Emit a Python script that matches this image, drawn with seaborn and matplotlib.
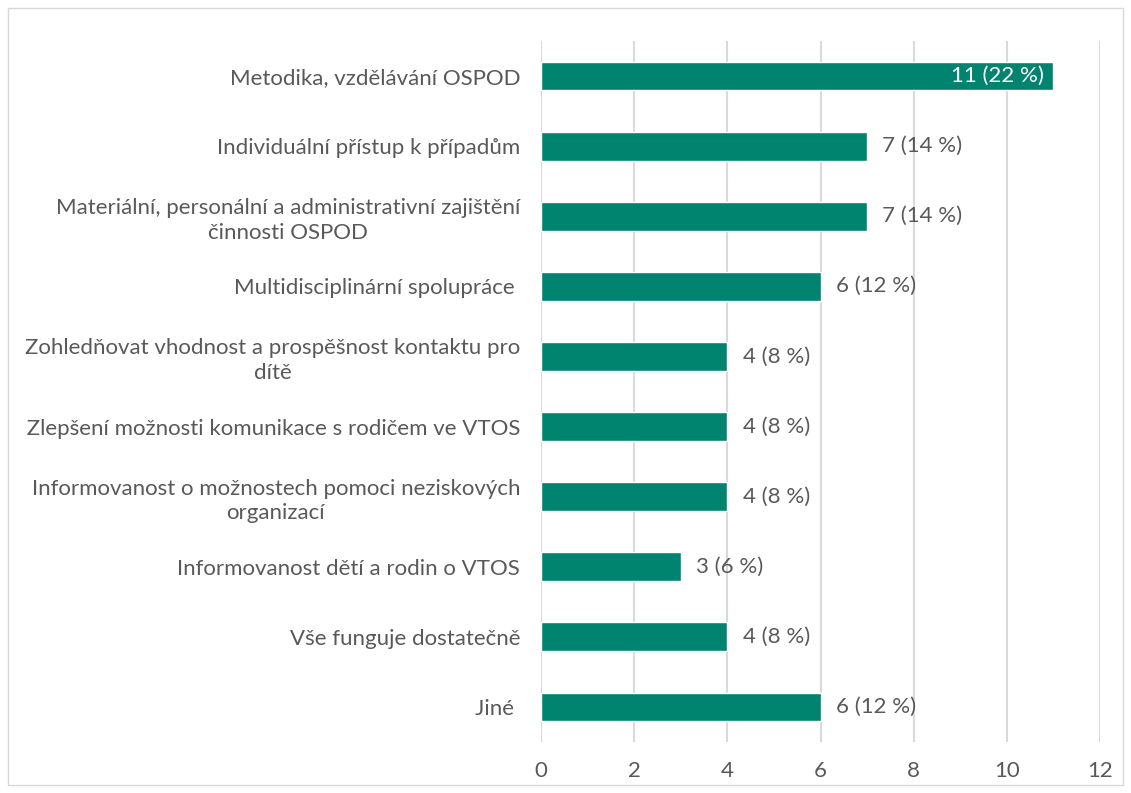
import matplotlib
matplotlib.use("Agg")
import matplotlib.pyplot as plt
import seaborn as sns
import pandas as pd
from matplotlib.patches import Rectangle

categories = [
    "Metodika, vzdělávání OSPOD",
    "Individuální přístup k případům",
    "Materiální, personální a administrativní zajištění\nčinnosti OSPOD",
    "Multidisciplinární spolupráce ",
    "Zohledňovat vhodnost a prospěšnost kontaktu pro\ndítě",
    " Zlepšení možnosti komunikace s rodičem ve VTOS",
    "Informovanost o možnostech pomoci neziskových\norganizací",
    "Informovanost dětí a rodin o VTOS",
    "Vše funguje dostatečně",
    "Jiné ",
]
counts = [11, 7, 7, 6, 4, 4, 4, 3, 4, 6]
percents = [22, 14, 14, 12, 8, 8, 8, 6, 8, 12]
x_ticks = [0, 2, 4, 6, 8, 10, 12]

BAR = "#00846F"
TEXT = "#595959"
GRID = "#D9D9D9"
FS = 16

df = pd.DataFrame({"kategorie": categories, "pocet": counts, "procenta": percents})

sns.set_theme(style="whitegrid")
plt.rcParams["font.family"] = ["Lato", "DejaVu Sans"]

fig = plt.figure(figsize=(11.31, 7.93), dpi=100)
ax = fig.add_axes([541 / 1131, 1 - 742 / 793, (1100 - 541) / 1131, (742 - 41) / 793])

sns.barplot(data=df, x="pocet", y="kategorie", orient="h", color=BAR,
            saturation=1, width=0.41, ax=ax)

ax.set_xlim(0, 12)
ax.set_ylim(len(categories) - 0.5, -0.5)
ax.set_xticks(x_ticks)
ax.set_xticklabels([str(t) for t in x_ticks], fontsize=FS, color=TEXT)
ax.set_yticks(range(len(categories)))
ax.set_yticklabels(df["kategorie"], fontsize=FS, color=TEXT,
                   multialignment="center", linespacing=1.3)
ax.tick_params(axis="y", pad=15, length=0)
ax.tick_params(axis="x", pad=14, length=0)
ax.set_xlabel("")
ax.set_ylabel("")
ax.grid(axis="x", color=GRID, linewidth=1.5)
ax.grid(axis="y", visible=False)
for s in ax.spines.values():
    s.set_visible(False)
ax.set_facecolor("white")

for i, (c, p) in enumerate(zip(df["pocet"], df["procenta"])):
    label = f"{c} ({p} %)"
    if c >= 10:
        ax.text(c - 0.2, i, label, ha="right", va="center", fontsize=FS, color="white")
    else:
        ax.text(c + 0.33, i, label, ha="left", va="center", fontsize=FS, color=TEXT)

fig.patches.append(Rectangle((8 / 1131, 8 / 793), 1 - 16 / 1131, 1 - 16 / 793,
                             transform=fig.transFigure, fill=False,
                             edgecolor="#D9D9D9", linewidth=1))

fig.savefig("out.png", dpi=100, facecolor="white")
